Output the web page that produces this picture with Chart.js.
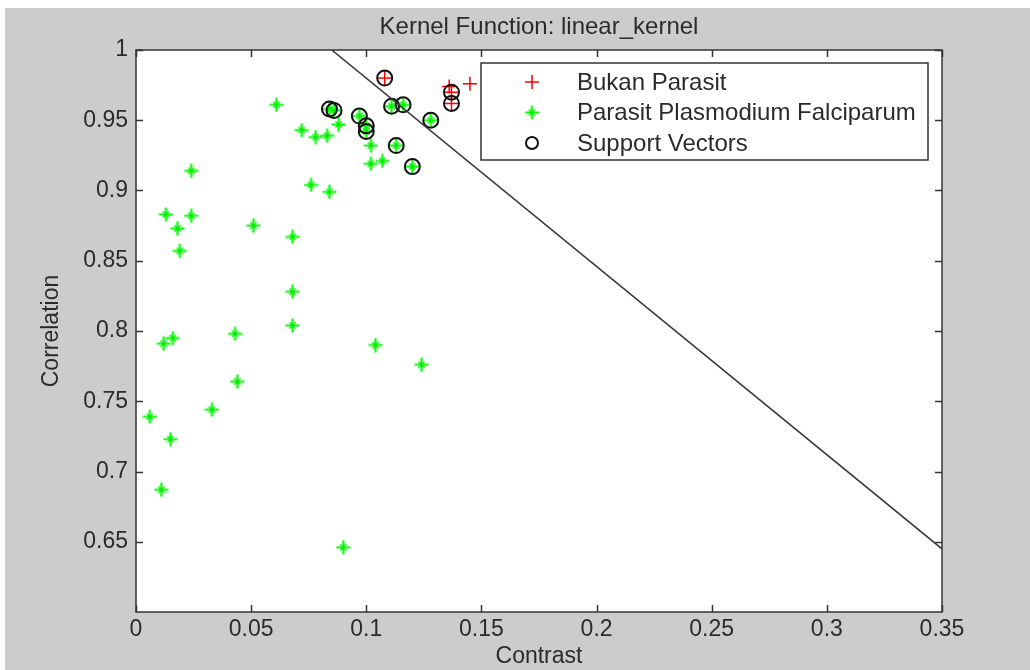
<!DOCTYPE html>
<html>
<head>
<meta charset="utf-8">
<script src="https://cdn.jsdelivr.net/npm/chart.js@4.4.1/dist/chart.umd.min.js"></script>
<style>
  html, body { margin: 0; padding: 0; background: #fff; }
  #wrap { position: relative; width: 1030px; height: 670px; }
</style>
</head>
<body>
<div id="wrap"><canvas id="svmChart" width="1030" height="670"></canvas></div>
<script>
// ── Data ──
const BUKAN_X = [0.108, 0.136, 0.145, 0.137, 0.137];
const BUKAN_Y = [0.980, 0.974, 0.976, 0.970, 0.962];

const PARASIT_X = [
  0.061, 0.088, 0.072, 0.078, 0.083, 0.102, 0.102, 0.107, 0.024, 0.076,
  0.084, 0.013, 0.024, 0.018, 0.051, 0.068, 0.019, 0.068, 0.068, 0.043,
  0.016, 0.012, 0.104, 0.124, 0.044, 0.033, 0.006, 0.015, 0.011, 0.090,
  0.084, 0.086, 0.097, 0.100, 0.100, 0.111, 0.116, 0.128, 0.113, 0.120
];
const PARASIT_Y = [
  0.961, 0.947, 0.943, 0.938, 0.939, 0.932, 0.919, 0.921, 0.914, 0.904,
  0.899, 0.883, 0.882, 0.873, 0.875, 0.867, 0.857, 0.828, 0.804, 0.798,
  0.795, 0.791, 0.790, 0.776, 0.764, 0.744, 0.739, 0.723, 0.687, 0.646,
  0.958, 0.957, 0.953, 0.946, 0.942, 0.960, 0.961, 0.950, 0.932, 0.917
];

const SV_X = [0.108, 0.137, 0.137, 0.084, 0.086, 0.097, 0.100, 0.100, 0.111, 0.116, 0.128, 0.113, 0.120];
const SV_Y = [0.980, 0.970, 0.962, 0.958, 0.957, 0.953, 0.946, 0.942, 0.960, 0.961, 0.950, 0.932, 0.917];

// separating line, from where it enters at the top to the right edge
const LINE_X = [0.085, 0.35];
const LINE_Y = [1.0, 0.645];

const X_TICKS = [0, 0.05, 0.1, 0.15, 0.2, 0.25, 0.3, 0.35];
const Y_TICKS = [0.65, 0.7, 0.75, 0.8, 0.85, 0.9, 0.95, 1];

const TITLE = 'Kernel Function: linear_kernel';
const FONT = "'Liberation Sans', Arial, sans-serif";
const TEXT = '#2b2b2b';
const AXIS = '#333333';

const pts = (xs, ys) => xs.map((x, i) => ({ x, y: ys[i] }));
const fmt = v => String(+(+v).toFixed(2));

// ── Matlab-style '*' marker as it looks in the (blurred) figure ──
function starMarker(size) {
  const c = document.createElement('canvas');
  c.width = c.height = size;
  const g = c.getContext('2d');
  const m = size / 2, r = size / 2 - 0.5, d = r * 0.45;
  g.strokeStyle = '#00ff00';
  g.lineWidth = 2.2;
  g.beginPath();
  g.moveTo(m - r, m); g.lineTo(m + r, m);
  g.moveTo(m, m - r); g.lineTo(m, m + r);
  g.stroke();
  g.lineWidth = 1.6;
  g.strokeStyle = 'rgba(0,230,0,0.8)';
  g.beginPath();
  g.moveTo(m - d, m - d); g.lineTo(m + d, m + d);
  g.moveTo(m - d, m + d); g.lineTo(m + d, m - d);
  g.stroke();
  return c;
}
const STAR = starMarker(15);

// ── Figure background (Matlab grey) ──
const figureBg = {
  id: 'figureBg',
  beforeDraw(chart) {
    const { ctx, width, height } = chart;
    ctx.save();
    ctx.fillStyle = '#cccccc';
    ctx.fillRect(5, 8, width - 5, height - 8);
    const a = chart.chartArea;
    ctx.fillStyle = '#ffffff';
    ctx.fillRect(a.left, a.top, a.right - a.left, a.bottom - a.top);
    ctx.fillStyle = TEXT;
    ctx.font = `24px ${FONT}`;
    ctx.textAlign = 'center';
    ctx.textBaseline = 'middle';
    ctx.fillText(TITLE, (a.left + a.right) / 2, 27);
    ctx.restore();
  }
};

// ── Axes box with inward ticks on all four sides ──
const axesBox = {
  id: 'axesBox',
  afterDatasetsDraw(chart) {
    const { ctx, chartArea: a, scales } = chart;
    const len = 7;
    ctx.save();
    ctx.strokeStyle = AXIS;
    ctx.lineWidth = 1.5;
    ctx.strokeRect(a.left, a.top, a.right - a.left, a.bottom - a.top);
    ctx.beginPath();
    X_TICKS.forEach(v => {
      const px = Math.round(scales.x.getPixelForValue(v)) + 0.5;
      ctx.moveTo(px, a.bottom); ctx.lineTo(px, a.bottom - len);
      ctx.moveTo(px, a.top);    ctx.lineTo(px, a.top + len);
    });
    Y_TICKS.forEach(v => {
      const py = Math.round(scales.y.getPixelForValue(v)) + 0.5;
      ctx.moveTo(a.left, py);  ctx.lineTo(a.left + len, py);
      ctx.moveTo(a.right, py); ctx.lineTo(a.right - len, py);
    });
    ctx.stroke();
    ctx.restore();
  }
};

// ── Legend box in the top right of the axes ──
const boxLegend = {
  id: 'boxLegend',
  afterDraw(chart) {
    const { ctx } = chart;
    const items = chart.data.datasets
      .filter(d => d.legendPos !== undefined)
      .sort((a, b) => a.legendPos - b.legendPos);
    const x0 = 481, y0 = 63, w = 447, h = 97;
    ctx.save();
    ctx.fillStyle = '#ffffff';
    ctx.fillRect(x0, y0, w, h);
    ctx.strokeStyle = AXIS;
    ctx.lineWidth = 1.5;
    ctx.strokeRect(x0, y0, w, h);
    items.forEach((d, i) => {
      const cy = 82 + i * 30.5;
      ctx.strokeStyle = d.borderColor;
      ctx.fillStyle = 'rgba(0,0,0,0)';
      ctx.lineWidth = d.legendWidth;
      Chart.helpers.drawPoint(ctx, {
        pointStyle: d.pointStyle, rotation: 0,
        radius: d.legendRadius, borderWidth: d.legendWidth
      }, 532, cy);
      ctx.fillStyle = TEXT;
      ctx.font = `24px ${FONT}`;
      ctx.textBaseline = 'middle';
      ctx.fillText(d.label, 577, cy + 1);
    });
    ctx.restore();
  }
};

new Chart(document.getElementById('svmChart'), {
  type: 'scatter',
  data: {
    datasets: [
      {
        label: 'Separating line', data: pts(LINE_X, LINE_Y),
        showLine: true, borderColor: '#3a3a3a', borderWidth: 1.6,
        pointRadius: 0, order: 0
      },
      {
        label: 'Support Vectors', data: pts(SV_X, SV_Y),
        pointStyle: 'circle', pointRadius: 7.5, borderColor: '#111111',
        backgroundColor: 'rgba(0,0,0,0)', borderWidth: 2, order: 1,
        legendPos: 2, legendRadius: 6, legendWidth: 2
      },
      {
        label: 'Parasit Plasmodium Falciparum', data: pts(PARASIT_X, PARASIT_Y),
        pointStyle: STAR, pointRadius: 7, borderColor: '#00ff00',
        backgroundColor: '#00ff00', borderWidth: 2, order: 2,
        legendPos: 1, legendRadius: 7, legendWidth: 2
      },
      {
        label: 'Bukan Parasit', data: pts(BUKAN_X, BUKAN_Y),
        pointStyle: 'cross', pointRadius: 7, borderColor: '#ff0000',
        backgroundColor: '#ff0000', borderWidth: 1.5, order: 3,
        legendPos: 0, legendRadius: 7, legendWidth: 1.5
      }
    ]
  },
  options: {
    responsive: false,
    animation: false,
    devicePixelRatio: 1,
    layout: { padding: { left: 0, right: 88, top: 50, bottom: 0 } },
    plugins: {
      legend: { display: false },
      tooltip: { enabled: false },
      title: { display: false }
    },
    scales: {
      x: {
        type: 'linear', min: 0, max: 0.35,
        afterBuildTicks: s => { s.ticks = X_TICKS.map(value => ({ value })); },
        afterFit: s => { s.height = 58; },
        grid: { display: false, drawTicks: false },
        border: { display: false },
        ticks: {
          autoSkip: false, maxRotation: 0, padding: 4, color: TEXT,
          font: { family: FONT, size: 23 }, callback: fmt
        },
        title: {
          display: true, text: 'Contrast', color: TEXT,
          font: { family: FONT, size: 23 }, padding: { top: 0, bottom: 0 }
        }
      },
      y: {
        type: 'linear', min: 0.6, max: 1,
        afterBuildTicks: s => { s.ticks = Y_TICKS.map(value => ({ value })); },
        afterFit: s => { s.width = 136; },
        grid: { display: false, drawTicks: false },
        border: { display: false },
        ticks: {
          autoSkip: false, padding: 8, color: TEXT,
          font: { family: FONT, size: 23 }, callback: fmt
        },
        title: {
          display: true, text: 'Correlation', color: TEXT,
          font: { family: FONT, size: 23 }, padding: { top: 38, bottom: 0 }
        }
      }
    }
  },
  plugins: [figureBg, axesBox, boxLegend]
});
</script>
</body>
</html>
